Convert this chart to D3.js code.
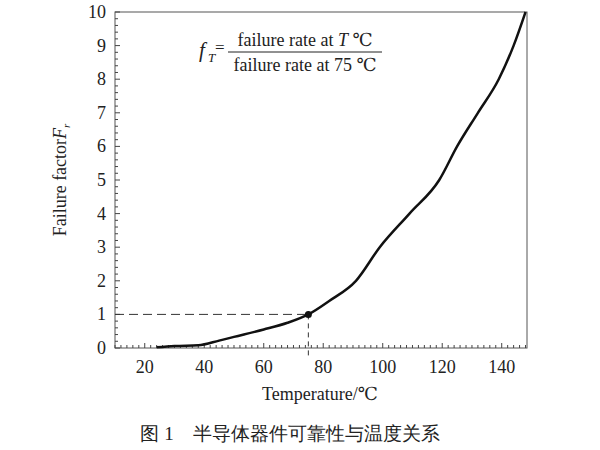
<!DOCTYPE html>
<html><head><meta charset="utf-8">
<script src="https://d3js.org/d3.v7.min.js"></script>
<style>body{margin:0;background:#fff} text{font-family:"Liberation Serif","DejaVu Serif",serif;fill:#222}</style>
</head><body>
<svg id="c" width="600" height="450"></svg>
<script>
// curve
const temps = [24, 30, 38, 45, 50, 60, 68, 75, 82, 91, 99, 109, 119, 125, 132, 139, 144, 148];
const factor = [0.02, 0.06, 0.08, 0.22, 0.33, 0.55, 0.75, 1.0, 1.4, 2.0, 3.0, 4.0, 5.0, 6.0, 7.0, 8.0, 9.0, 10];
const xTicks = [20, 40, 60, 80, 100, 120, 140];
const yTicks = [0, 1, 2, 3, 4, 5, 6, 7, 8, 9, 10];

let svg = d3.select("#c");
let m = {l: 115, r: 527, t: 12, b: 348};
let x = d3.scaleLinear().domain([10, 148.5]).range([m.l, m.r]);
let y = d3.scaleLinear().domain([0, 10]).range([m.b, m.t]);

svg.append("rect").attr("x", m.l).attr("y", m.t).attr("width", m.r - m.l).attr("height", m.b - m.t)
  .attr("fill", "none").attr("stroke", "#555").attr("stroke-width", 1);

// minor ticks
d3.range(10, 149, 2).forEach(v => {
  svg.append("line").attr("x1", x(v)).attr("x2", x(v)).attr("y1", m.b).attr("y2", m.b - (v % 20 == 0 ? 5 : 3)).attr("stroke", "#444");
});
d3.range(0, 10.01, 0.2).forEach(v => {
  svg.append("line").attr("y1", y(v)).attr("y2", y(v)).attr("x1", m.l).attr("x2", m.l + (Math.abs(v - Math.round(v)) < 0.01 ? 5 : 3)).attr("stroke", "#444");
});

svg.selectAll(".xl").data(xTicks).join("text").attr("x", d => x(d)).attr("y", m.b + 25)
  .attr("text-anchor", "middle").attr("font-size", 18).text(d => d);
svg.selectAll(".yl").data(yTicks).join("text").attr("x", m.l - 9).attr("y", d => y(d) + 6)
  .attr("text-anchor", "end").attr("font-size", 18).text(d => d);

// reference lines at 75 °C
svg.append("line").attr("x1", m.l).attr("x2", x(75)).attr("y1", y(1)).attr("y2", y(1))
  .attr("stroke", "#333").attr("stroke-dasharray", "9,5");
svg.append("line").attr("x1", x(75)).attr("x2", x(75)).attr("y1", y(1)).attr("y2", m.b + 8)
  .attr("stroke", "#333").attr("stroke-dasharray", "5,4");

svg.append("path").datum(temps.map((t, i) => [t, factor[i]]))
  .attr("d", d3.line().x(d => x(d[0])).y(d => y(d[1])).curve(d3.curveMonotoneX))
  .attr("fill", "none").attr("stroke", "#111").attr("stroke-width", 2.5);
svg.append("circle").attr("cx", x(75)).attr("cy", y(1)).attr("r", 3.5).attr("fill", "#111");

// formula
let f = svg.append("g");
f.append("text").attr("x", 199).attr("y", 57).attr("font-size", 21).attr("font-style", "italic").text("f");
f.append("text").attr("x", 208).attr("y", 62).attr("font-size", 13).attr("font-style", "italic").text("T");
f.append("text").attr("x", 215).attr("y", 53).attr("font-size", 17).text("=");
f.append("text").attr("x", 305).attr("y", 46).attr("font-size", 18).attr("text-anchor", "middle")
  .html('failure rate at <tspan font-style="italic">T</tspan> ℃');
f.append("line").attr("x1", 228).attr("x2", 382).attr("y1", 52).attr("y2", 52).attr("stroke", "#222");
f.append("text").attr("x", 305).attr("y", 71).attr("font-size", 18).attr("text-anchor", "middle").text("failure rate at 75 ℃");

svg.append("text").attr("x", 320).attr("y", 400).attr("text-anchor", "middle").attr("font-size", 18).text("Temperature/℃");
svg.append("text").attr("transform", "translate(66,180) rotate(-90)").attr("text-anchor", "middle").attr("font-size", 18)
  .html('Failure factor<tspan font-style="italic">F</tspan><tspan font-size="11" font-style="italic" dy="4">r</tspan>');
svg.append("text").attr("x", 290).attr("y", 440).attr("text-anchor", "middle").attr("font-size", 19)
  .attr("font-family", "Noto Sans CJK SC").text("图 1　半导体器件可靠性与温度关系");
</script>
</body></html>
